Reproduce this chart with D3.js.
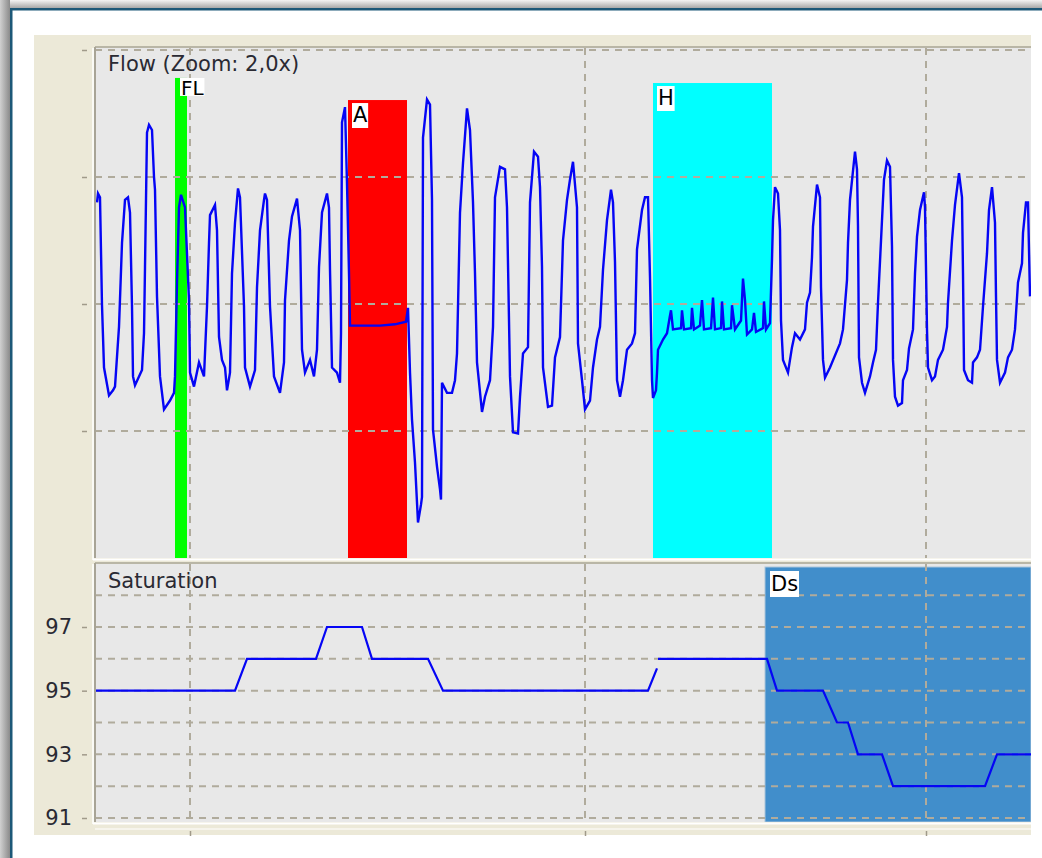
<!DOCTYPE html>
<html>
<head>
<meta charset="utf-8">
<script src="https://cdn.jsdelivr.net/npm/d3@7"></script>
<style>
  body { margin: 0; background: #fff; }
  svg { display: block; }
</style>
</head>
<body>
<svg id="chart" width="1042" height="858"></svg>
<script>
// Flow trace: [sample, flow]
const flowPoints = [
  [2,0.80],[3,0.87],[5,0.84],[7,-0.01],[9,-0.50],[14,-0.72],[18,-0.68],[20,-0.65],[24,-0.18],[27,0.48],[30,0.82],[33,0.84],[35,0.72],[37,-0.02],[38,-0.57],[40,-0.64],[47,-0.52],[49,-0.23],[50,0.29],[52,1.35],[54,1.41],[57,1.37],[59,1.00],[60,0.90],[62,0.06],[65,-0.57],[69,-0.83],[75,-0.76],[79,-0.70],[80,-0.57],[82,0.17],[84,0.76],[86,0.86],[90,0.76],[94,0.03],[95,-0.54],[99,-0.65],[104,-0.46],[109,-0.57],[112,-0.02],[114,0.48],[115,0.70],[120,0.78],[122,0.58],[124,-0.26],[127,-0.44],[130,-0.50],[132,-0.68],[135,-0.54],[137,0.24],[140,0.64],[143,0.91],[145,0.84],[149,-0.02],[150,-0.50],[155,-0.65],[160,-0.52],[162,0.13],[165,0.58],[169,0.82],[170,0.87],[172,0.82],[175,-0.02],[179,-0.57],[185,-0.70],[189,-0.46],[190,0.03],[194,0.50],[197,0.69],[202,0.83],[205,0.58],[207,-0.36],[210,-0.54],[215,-0.44],[219,-0.57],[222,-0.36],[224,0.29],[227,0.72],[232,0.87],[234,0.76],[235,0.27],[237,-0.50],[242,-0.54],[245,-0.62],[246,-0.23],[247,1.43],[250,1.55],[252,0.95],[254,0.24],[255,-0.17],
  [285,-0.17],[300,-0.16],[311,-0.14],[313,-0.03],[315,-0.54],[317,-0.91],[320,-1.25],[323,-1.72],[326,-1.58],[327,-1.52],[328,1.31],[332,1.61],[335,1.57],[337,0.82],[338,-0.99],[342,-1.28],[345,-1.46],[346,-1.54],[347,-0.62],[352,-0.70],[357,-0.70],[360,-0.60],[362,-0.39],[365,0.72],[368,1.11],[372,1.54],[375,1.37],[378,0.80],[380,0.24],[382,-0.46],[387,-0.85],[390,-0.73],[395,-0.60],[398,-0.18],[400,0.84],[405,1.08],[410,1.06],[412,0.76],[415,-0.57],[418,-1.01],[423,-1.02],[425,-0.73],[428,-0.39],[433,-0.34],[435,0.80],[439,1.20],[443,1.16],[445,0.92],[447,0.29],[448,-0.50],[453,-0.81],[457,-0.80],[460,-0.42],[465,-0.26],[468,0.50],[472,0.82],[475,0.98],[478,1.12],[482,0.76],[483,-0.31],[487,-0.60],[490,-0.83],[495,-0.76],[498,-0.50],[502,-0.28],[505,-0.18],[508,0.27],[512,0.66],[516,0.90],[518,0.80],[520,0.33],[522,-0.60],[525,-0.73],[528,-0.60],[532,-0.36],[537,-0.31],[540,-0.23],[542,0.43],[547,0.74],[550,0.84],[553,0.84],[555,0.21],[557,-0.60],[558,-0.74],[561,-0.68],[562,-0.54],[563,-0.36],[568,-0.28],[572,-0.23],[575,-0.09],
  [576,-0.05],[578,-0.20],[586,-0.19],[587,-0.05],[589,-0.20],[596,-0.19],[597,-0.03],[599,-0.20],[605,-0.17],[607,0.03],[609,-0.20],[616,-0.19],[618,0.05],[620,-0.20],[626,-0.19],[627,0.02],[629,-0.20],[636,-0.19],[637,-0.01],[640,-0.20],[646,-0.13],[648,0.20],[650,0.03],[652,-0.24],[657,-0.20],[659,-0.07],[661,-0.22],[668,-0.19],[669,0.02],[671,-0.20],[675,-0.15],[677,0.35],[678,0.66],[680,0.92],[683,0.87],[685,0.58],[686,-0.13],[688,-0.44],[693,-0.54],[697,-0.34],[700,-0.23],[705,-0.28],[710,-0.20],[712,0.01],[715,0.09],[717,0.37],[718,0.61],[722,0.94],[725,0.84],[726,0.13],[728,-0.44],[730,-0.58],[735,-0.50],[745,-0.31],[748,-0.20],[752,0.19],[753,0.48],[755,0.82],[760,1.20],[762,1.06],[763,0.61],[764,-0.42],[767,-0.62],[770,-0.70],[775,-0.57],[778,-0.46],[781,-0.36],[783,0.01],[787,0.66],[789,0.98],[792,1.13],[795,1.08],[797,0.45],[798,-0.44],[800,-0.73],[803,-0.80],[807,-0.78],[808,-0.60],[812,-0.52],[814,-0.35],[818,-0.20],[820,0.24],[822,0.53],[825,0.74],[829,0.88],[830,0.76],[832,-0.20],[833,-0.50],[837,-0.60],[840,-0.57],[843,-0.44],[848,-0.36],[852,-0.18],[853,0.01],[857,0.50],[860,0.78],[864,1.03],[867,0.84],[868,0.24],[869,-0.52],[873,-0.60],[877,-0.62],[878,-0.46],[882,-0.42],[885,-0.36],[888,-0.02],[892,0.40],[894,0.74],[897,0.92],[900,0.64],[901,0.06],[902,-0.44],[905,-0.62],[910,-0.54],[913,-0.42],[917,-0.36],[920,-0.20],[923,0.17],[927,0.32],[928,0.56],[931,0.80],[933,0.80],[935,0.06]
];

// Saturation trace: [sample, SpO2 %], null = gap
const satPoints = [
  [0,95],[140,95],[152,96],[221,96],[232,97],[267,97],[277,96],[333,96],[348,95],[553,95],[562,95.7],[562.5,null],
  [563,96],[672,96],[682,95],[728,95],[742,94],[753,94],[763,93],[787,93],[798,92],[890,92],[902,93],[936,93]
];

// scored events
const eventNames = ['FL', 'A', 'H'];
const eventStart = [80, 253, 558];
const eventEnd = [92, 312, 677];
const eventColors = ['#00ff00', '#ff0000', '#00ffff'];
const desatName = 'Ds';
const desatStart = 670;
const desatEnd = 936;

// ticks and grid
const timeGrid = [95, 490, 831];
const flowGrid = [-1, 0, 1, 2];
const satGrid = [92, 93, 94, 95, 96, 97, 98];
const satTicks = [91, 93, 95, 97];

const svg = d3.select('#chart');
const font = '"DejaVu Sans", Verdana, sans-serif';
const gridColor = '#b0ab9c';
const traceColor = '#0505f5';

const plot = { left: 95, right: 1031 };
const flowPanel = { top: 48, bottom: 558 };
const satPanel = { top: 564, bottom: 822 };

const x = d3.scaleLinear().domain([0, 936]).range([plot.left, plot.right]);
const yFlow = d3.scaleLinear().domain([-2, 2]).range([558, 50]);
const ySat = d3.scaleLinear().domain([91, 97]).range([818, 627]);

// ---- window frame
const defs = svg.append('defs');
const gTop = defs.append('linearGradient').attr('id', 'shadeTop').attr('x1', 0).attr('x2', 0).attr('y1', 0).attr('y2', 1);
gTop.append('stop').attr('offset', 0).attr('stop-color', '#f4f4f4');
gTop.append('stop').attr('offset', 1).attr('stop-color', '#a8a8a8');
const gLeft = defs.append('linearGradient').attr('id', 'shadeLeft');
gLeft.append('stop').attr('offset', 0).attr('stop-color', '#d0d0d0');
gLeft.append('stop').attr('offset', 1).attr('stop-color', '#8a8a8a');

svg.append('rect').attr('width', 1042).attr('height', 858).attr('fill', '#fff');
svg.append('rect').attr('width', 1042).attr('height', 8).attr('fill', 'url(#shadeTop)');
svg.append('rect').attr('width', 10).attr('height', 858).attr('fill', 'url(#shadeLeft)');
svg.append('rect').attr('x', 10).attr('y', 8).attr('width', 1032).attr('height', 2.5).attr('fill', '#1d5878');
svg.append('rect').attr('x', 10).attr('y', 8).attr('width', 2.5).attr('height', 850).attr('fill', '#1d5878');

// beige dialog panel
svg.append('rect').attr('x', 34).attr('y', 35).attr('width', 997).attr('height', 800).attr('fill', '#ece9d8');

// ---- panels
function panelBg(p) {
  svg.append('rect')
    .attr('x', plot.left).attr('y', p.top)
    .attr('width', plot.right - plot.left).attr('height', p.bottom - p.top)
    .attr('fill', '#e8e8e8');
}
panelBg(flowPanel);
panelBg(satPanel);

defs.append('clipPath').attr('id', 'clipFlow').append('rect')
  .attr('x', plot.left).attr('y', flowPanel.top)
  .attr('width', plot.right - plot.left).attr('height', flowPanel.bottom - flowPanel.top);
defs.append('clipPath').attr('id', 'clipSat').append('rect')
  .attr('x', plot.left).attr('y', satPanel.top)
  .attr('width', plot.right - plot.left).attr('height', satPanel.bottom - satPanel.top);

const flowG = svg.append('g').attr('clip-path', 'url(#clipFlow)');
const satG = svg.append('g').attr('clip-path', 'url(#clipSat)');

// event bars
const eventTop = [1.78, 1.606, 1.74];
flowG.selectAll('rect.event')
  .data(eventNames)
  .join('rect')
  .attr('class', 'event')
  .attr('x', (d, i) => x(eventStart[i]))
  .attr('y', (d, i) => yFlow(eventTop[i]))
  .attr('width', (d, i) => x(eventEnd[i]) - x(eventStart[i]))
  .attr('height', (d, i) => flowPanel.bottom - yFlow(eventTop[i]))
  .attr('fill', (d, i) => eventColors[i]);

satG.append('rect')
  .attr('x', x(desatStart)).attr('y', satPanel.top + 3)
  .attr('width', x(desatEnd) - x(desatStart))
  .attr('height', satPanel.bottom - satPanel.top - 3)
  .attr('fill', '#418ecb')
  .attr('stroke', '#a9c3da').attr('stroke-width', 1);

// grid lines
function hGrid(g, vals, scale) {
  g.selectAll(null)
    .data(vals)
    .join('line')
    .attr('x1', plot.left).attr('x2', plot.right)
    .attr('y1', d => scale(d)).attr('y2', d => scale(d))
    .attr('stroke', gridColor).attr('stroke-width', 2)
    .attr('stroke-dasharray', '7,6');
}
function vGrid(g, p) {
  g.selectAll(null)
    .data(timeGrid)
    .join('line')
    .attr('x1', d => x(d)).attr('x2', d => x(d))
    .attr('y1', p.top).attr('y2', p.bottom)
    .attr('stroke', gridColor).attr('stroke-width', 2)
    .attr('stroke-dasharray', '7,6');
}
hGrid(flowG, flowGrid, yFlow);
vGrid(flowG, flowPanel);
hGrid(satG, satGrid.concat([91]), ySat);
vGrid(satG, satPanel);

// signals
const flowLine = d3.line().x(d => x(d[0])).y(d => yFlow(d[1]));
flowG.append('path')
  .datum(flowPoints)
  .attr('d', flowLine)
  .attr('fill', 'none')
  .attr('stroke', traceColor)
  .attr('stroke-width', 2.4)
  .attr('stroke-linejoin', 'miter');

const satLine = d3.line().defined(d => d[1] !== null).x(d => x(d[0])).y(d => ySat(d[1]));
satG.append('path')
  .datum(satPoints)
  .attr('d', satLine)
  .attr('fill', 'none')
  .attr('stroke', traceColor)
  .attr('stroke-width', 2.2);

// event labels (white boxes)
function addLabel(g, text, bx, boxTop, boxH, textY, size) {
  const lg = g.append('g');
  const rect = lg.append('rect').attr('fill', '#fff');
  const t = lg.append('text')
    .attr('x', bx + 1).attr('y', textY)
    .attr('font-family', font).attr('font-size', size)
    .attr('fill', '#000')
    .text(text);
  const w = t.node().getComputedTextLength();
  rect.attr('x', bx).attr('y', boxTop).attr('width', w + 2).attr('height', boxH);
  const id = 'lab' + text;
  defs.append('clipPath').attr('id', id).append('rect')
    .attr('x', bx).attr('y', boxTop).attr('width', w + 2).attr('height', boxH);
  lg.attr('clip-path', `url(#${id})`);
}
eventNames.forEach((name, i) => {
  const top = yFlow(eventTop[i]);
  if (name === 'FL') {
    // label squeezed under the panel title
    addLabel(flowG, name, x(eventStart[i]) + 5, top, 18, top + 17, 20);
  } else {
    addLabel(flowG, name, x(eventStart[i]) + 4, top + 3, 25, top + 22, 21);
  }
});
addLabel(satG, desatName, x(desatStart) + 5, satPanel.top + 7, 26, satPanel.top + 27, 21);

// panel borders (3d inset look)
function border(p) {
  svg.append('line').attr('x1', plot.left - 2).attr('x2', plot.left - 2).attr('y1', p.top).attr('y2', p.bottom + 2)
    .attr('stroke', '#fff').attr('stroke-width', 1.5);
  svg.append('line').attr('x1', plot.left).attr('x2', plot.left).attr('y1', p.top - 1).attr('y2', p.bottom)
    .attr('stroke', '#a8a496').attr('stroke-width', 2);
  svg.append('line').attr('x1', plot.left).attr('x2', plot.right).attr('y1', p.top - 1).attr('y2', p.top - 1)
    .attr('stroke', '#a8a496').attr('stroke-width', 1.5);
  svg.append('line').attr('x1', plot.left - 2).attr('x2', plot.right).attr('y1', p.bottom + 1.5).attr('y2', p.bottom + 1.5)
    .attr('stroke', '#fff').attr('stroke-width', 2);
}
border(flowPanel);
border(satPanel);
svg.append('line').attr('x1', plot.left).attr('x2', plot.right).attr('y1', 829).attr('y2', 829)
  .attr('stroke', '#f6f4ec').attr('stroke-width', 2);

// panel titles
svg.append('text').attr('x', 108).attr('y', 71)
  .attr('font-family', font).attr('font-size', 21).attr('fill', '#2a2a33')
  .text('Flow (Zoom: 2,0x)');
svg.append('text').attr('x', 108).attr('y', 588)
  .attr('font-family', font).attr('font-size', 21).attr('fill', '#2a2a33')
  .text('Saturation');

// axes
const flowAxis = svg.append('g')
  .attr('transform', 'translate(87,0)')
  .call(d3.axisLeft(yFlow).tickValues(flowGrid).tickSize(5).tickFormat(''));
const satAxis = svg.append('g')
  .attr('transform', 'translate(87,0)')
  .call(d3.axisLeft(ySat).tickValues(satTicks).tickSize(5).tickPadding(10).tickFormat(d3.format('d')));
const timeAxis = svg.append('g')
  .attr('transform', 'translate(0,831)')
  .call(d3.axisBottom(x).tickValues(timeGrid).tickSize(5).tickFormat(''));

[flowAxis, satAxis, timeAxis].forEach(a => {
  a.select('.domain').remove();
  a.selectAll('.tick line').attr('stroke', '#a09a8a').attr('stroke-width', 1.5);
});
satAxis.selectAll('.tick text')
  .attr('font-family', font).attr('font-size', 21).attr('fill', '#2a2a33');
</script>
</body>
</html>
